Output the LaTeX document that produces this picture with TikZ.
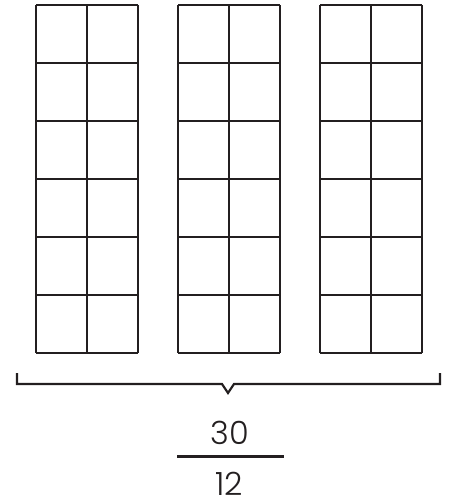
\documentclass[tikz,border=0pt]{standalone}
\usepackage{fontspec}
\setmainfont{Poppins}[UprightFont=* Light]
\usetikzlibrary{positioning}
\definecolor{inkblack}{RGB}{35,31,32}
\tikzset{
    cellline/.style={draw=inkblack, line width=2pt},
    bracestyle/.style={draw=inkblack, line width=2.2pt},
    fracbar/.style={draw=inkblack, line width=3pt},
    fracnum/.style={font=\fontsize{32}{34}\selectfont, text=inkblack, inner sep=0pt}
}
\begin{document}
\begin{tikzpicture}[x=1pt, y=-1pt]
    \useasboundingbox (0,0) rectangle (456,504);
    % three strips of 2 x 6 cells
    \foreach \gx in {36,178,320} {
        \foreach \c in {0,1,2} \draw[cellline] (\gx+\c*51,5) -- (\gx+\c*51,353);
        \foreach \r in {0,...,6} \draw[cellline] (\gx,5+\r*58) -- (\gx+102,5+\r*58);
    }
    % brace under the strips
    \coordinate (bl) at (17,373);
    \coordinate (br) at (440,373);
    \coordinate (tip) at (228,393);
    \draw[bracestyle] (bl) -- (17,384) -- (222,384) -- (tip) -- (234,384) -- (440,384) -- (br);
    % fraction
    \node[fracnum] (num) at (230,433) {30};
    \node[fracnum] (den) at (229,484) {12};
    \coordinate (barl) at (177,456);
    \coordinate (barr) at (284,456);
    \draw[fracbar] (barl) -- (barr);
\end{tikzpicture}
\end{document}
